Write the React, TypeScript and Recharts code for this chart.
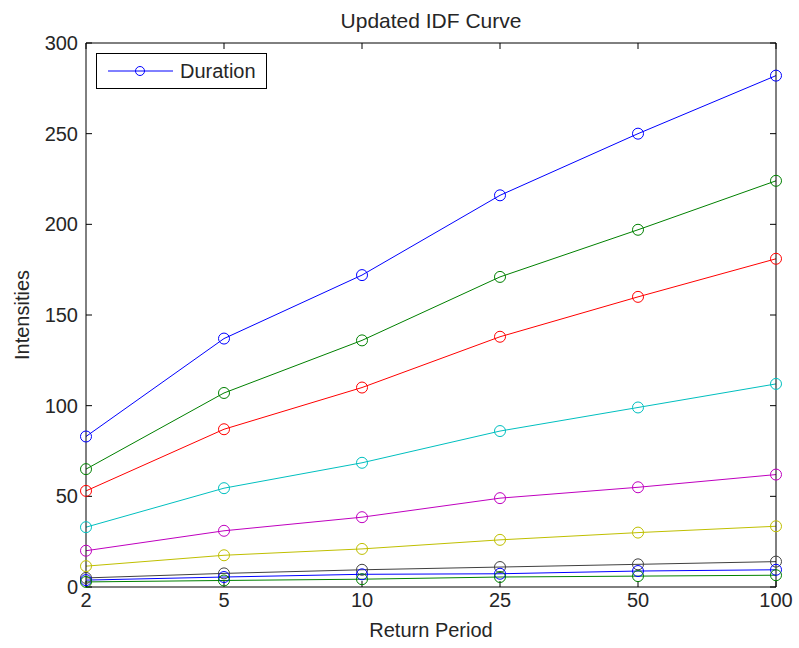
import React from 'react';
import {
  LineChart,
  Line,
  XAxis,
  YAxis,
  Label,
} from 'recharts';

const periods = ['2', '5', '10', '25', '50', '100'];
const yTicks = [0, 50, 100, 150, 200, 250, 300];

// intensities per duration, top curve first
const s1 = [83, 137, 172, 216, 250, 282];
const s2 = [65, 107, 136, 171, 197, 224];
const s3 = [53, 87, 110, 138, 160, 181];
const s4 = [33, 54.5, 68.5, 86, 99, 112];
const s5 = [20, 31, 38.5, 49, 55, 62];
const s6 = [11.5, 17.5, 21, 26, 30, 33.5];
const s7 = [5, 7.5, 9.5, 11, 12.5, 14];
const s8 = [3.8, 5.5, 7, 7.3, 8.8, 9.5];
const s9 = [2.8, 3.6, 4.3, 5.5, 6, 6.5];

const seriesList = [s1, s2, s3, s4, s5, s6, s7, s8, s9];
const colors = ['#0000ff', '#008000', '#ff0000', '#00bfbf', '#bf00bf', '#bfbf00', '#404040', '#0000ff', '#008000'];

const data = periods.map((p, i) => {
  const row: { [key: string]: string | number } = { period: p };
  seriesList.forEach((s, k) => {
    row[`s${k + 1}`] = s[i];
  });
  return row;
});

const FONT = '"Liberation Sans", Arial, sans-serif';
const TEXT = '#262626';

const LegendBox = () => (
  <div
    style={{
      position: 'absolute',
      left: 96,
      top: 53,
      width: 171,
      height: 36,
      border: '1px solid #000',
      background: '#fff',
      boxSizing: 'border-box',
    }}
  >
    <svg width={171} height={36} style={{ position: 'absolute', left: -1, top: -1 }}>
      <line x1={12} y1={18} x2={77} y2={18} stroke="#0000ff" strokeWidth={1} />
      <circle cx={44} cy={18} r={4.5} fill="none" stroke="#0000ff" strokeWidth={1} />
      <text x={84} y={25} fontSize={20} fontFamily={FONT} fill={TEXT}>Duration</text>
    </svg>
  </div>
);

export default function App() {
  const tickStyle = { fontSize: 20, fill: TEXT, fontFamily: FONT };
  return (
    <div style={{ position: 'absolute', left: 0, top: 0, width: 799, height: 648, background: '#fff' }}>
      <div
        style={{
          position: 'absolute',
          top: 9,
          left: 86,
          width: 690,
          textAlign: 'center',
          fontFamily: FONT,
          fontSize: 21,
          color: TEXT,
          lineHeight: '24px',
        }}
      >
        Updated IDF Curve
      </div>
      <LineChart
        width={799}
        height={648}
        data={data}
        margin={{ top: 42, right: 22, left: 0, bottom: 0 }}
      >
        <XAxis
          dataKey="period"
          padding={{ left: 0, right: 0 }}
          height={61}
          tickSize={-6}
          tickMargin={12}
          tick={tickStyle}
          axisLine={{ stroke: '#000' }}
          tickLine={{ stroke: '#000' }}
        >
          <Label value="Return Period" position="insideBottom" offset={11} style={{ fontSize: 20, fill: TEXT, fontFamily: FONT }} />
        </XAxis>
        <XAxis
          xAxisId="top"
          orientation="top"
          dataKey="period"
          padding={{ left: 0, right: 0 }}
          height={1}
          tickSize={-6}
          tickFormatter={() => ''}
          axisLine={{ stroke: '#000' }}
          tickLine={{ stroke: '#000' }}
        />
        <YAxis
          width={86}
          domain={[0, 300]}
          ticks={yTicks}
          tickSize={-6}
          tickMargin={14}
          tick={tickStyle}
          axisLine={{ stroke: '#000' }}
          tickLine={{ stroke: '#000' }}
        >
          <Label value="Intensities" angle={-90} position="insideLeft" offset={22} style={{ fontSize: 20, fill: TEXT, fontFamily: FONT, textAnchor: 'middle' }} />
        </YAxis>
        <YAxis
          yAxisId="right"
          orientation="right"
          width={1}
          domain={[0, 300]}
          ticks={yTicks}
          tickSize={-6}
          tickFormatter={() => ''}
          axisLine={{ stroke: '#000' }}
          tickLine={{ stroke: '#000' }}
        />
        {/* invisible series so the top and right axes get drawn as the box */}
        <Line
          xAxisId="top"
          yAxisId="right"
          dataKey="s1"
          stroke="none"
          dot={false}
          activeDot={false}
          legendType="none"
          isAnimationActive={false}
        />
        {seriesList.map((_, k) => (
          <Line
            key={k}
            type="linear"
            dataKey={`s${k + 1}`}
            stroke={colors[k]}
            strokeWidth={1}
            dot={{ r: 5.5, fill: 'none', stroke: colors[k], strokeWidth: 1 }}
            isAnimationActive={false}
          />
        ))}
      </LineChart>
      <LegendBox />
    </div>
  );
}
